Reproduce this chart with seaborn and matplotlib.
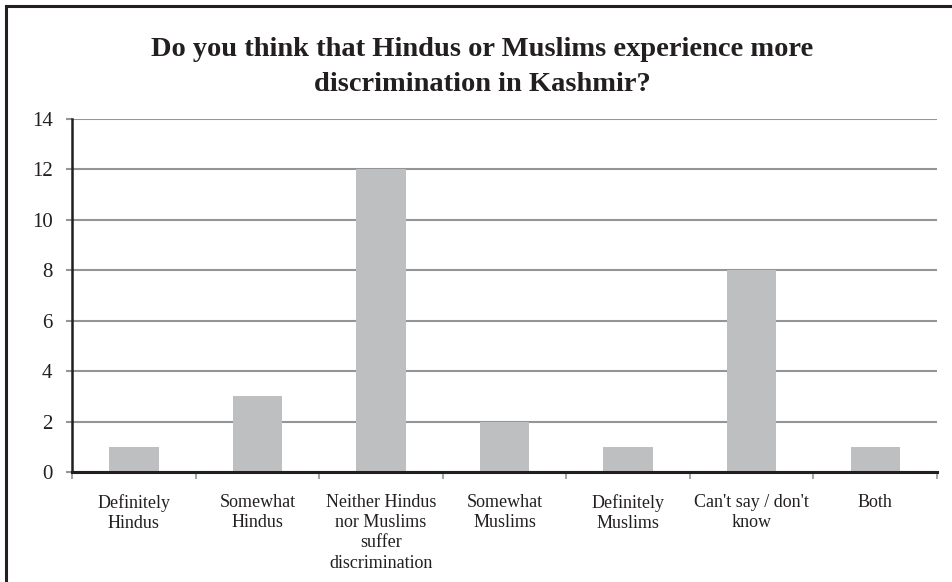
import matplotlib
matplotlib.use("Agg")
import matplotlib.pyplot as plt
import seaborn as sns
import pandas as pd
from matplotlib.patches import Rectangle

categories = ["Definitely\nHindus", "Somewhat\nHindus",
              "Neither Hindus\nnor Muslims\nsuffer\ndiscrimination",
              "Somewhat\nMuslims", "Definitely\nMuslims",
              "Can't say / don't\nknow", "Both"]
values = [1, 3, 12, 2, 1, 8, 1]
yticks = [0, 2, 4, 6, 8, 10, 12, 14]

sns.set_theme(style="white")
plt.rcParams['font.family'] = ['Liberation Serif', 'DejaVu Serif']

df = pd.DataFrame({"cat": categories, "val": values})

fig = plt.figure(figsize=(9.53, 5.82), dpi=100)
ax = fig.add_axes([72/953, 1 - 472/582, (937-72)/953, (472-119)/582])

sns.barplot(data=df, x="cat", y="val", color="#bebfc1", saturation=1,
            width=0.4, ax=ax, edgecolor="none", zorder=3)

ax.set_ylim(0, 14)
ax.set_xlim(-0.5, len(categories) - 0.5)
ax.set_yticks(yticks)
ax.set_yticklabels([str(t) for t in yticks], fontsize=15, color="#231f20")
ax.set_xticks(range(len(categories)))
ax.set_xticklabels(categories, fontsize=13, color="#231f20", linespacing=1.24)
ax.yaxis.grid(True, color="#939598", linewidth=1.5, zorder=0)
ax.set_axisbelow(True)
ax.tick_params(axis='y', length=4, width=1.5, color="#939598", pad=10, left=True)
ax.tick_params(axis='x', length=0, pad=16)
# minor ticks at category boundaries
ax.set_xticks([i - 0.5 for i in range(len(categories) + 1)], minor=True)
ax.tick_params(axis='x', which='minor', length=5, width=1.2, color="#939598",
               bottom=True, direction='out')
ax.set_xlabel("")
ax.set_ylabel("")
for s in ["top", "right"]:
    ax.spines[s].set_visible(False)
ax.spines["left"].set_color("#231f20")
ax.spines["left"].set_linewidth(1.8)
ax.spines["bottom"].set_color("#231f20")
ax.spines["bottom"].set_linewidth(2.2)
ax.spines["left"].set_zorder(5)
ax.spines["bottom"].set_zorder(5)

fig.text(482/953, 1 - 67/582, "Do you think that Hindus or Muslims experience more\ndiscrimination in Kashmir?",
         ha="center", va="center", fontsize=20.5, fontweight="bold", color="#231f20",
         linespacing=1.54)

fig.patches.append(Rectangle((6/953, -0.05), 1.0, 1 - 5.5/582 + 0.05, transform=fig.transFigure,
                             fill=False, edgecolor="#231f20", linewidth=2.2))

fig.savefig("out.png", dpi=100)
